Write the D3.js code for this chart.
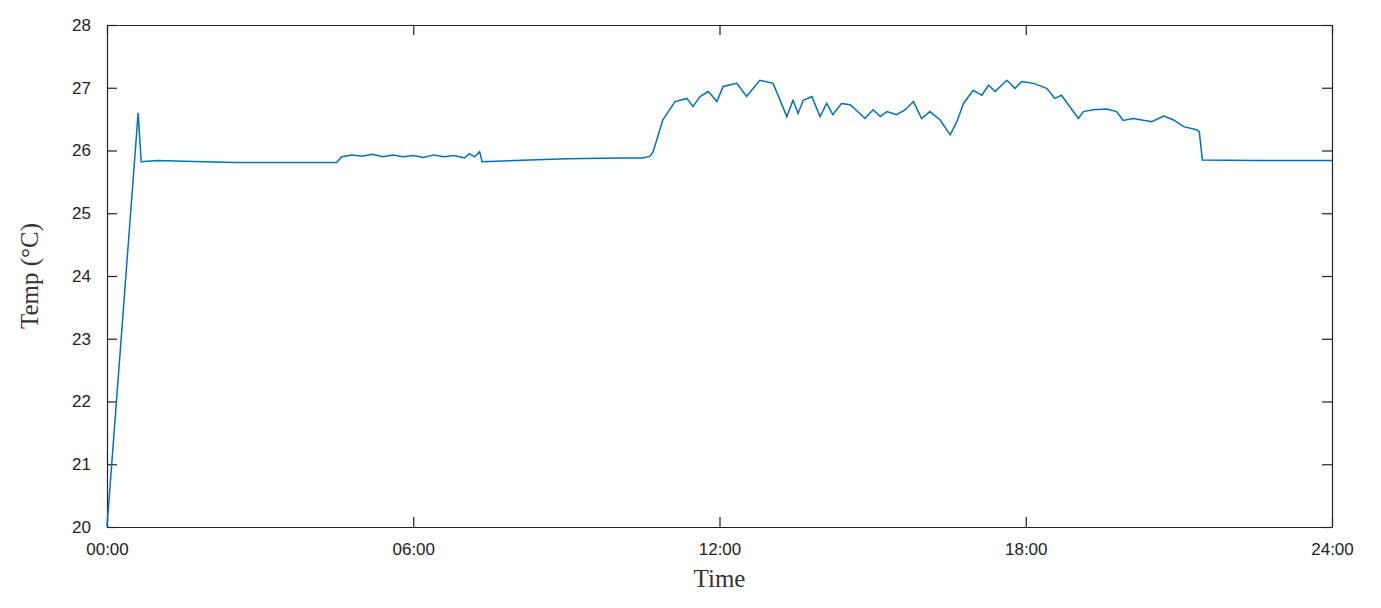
<!DOCTYPE html>
<html>
<head>
<meta charset="utf-8">
<script src="https://cdn.jsdelivr.net/npm/d3@7"></script>
<style>
  body { margin: 0; background: #fff; }
  .tick text { font-family: "Liberation Sans", Arial, sans-serif; font-size: 17px; fill: #222; }
  .lbl { font-family: "Liberation Serif", "Times New Roman", serif; font-size: 25px; fill: #333; }
</style>
</head>
<body>
<svg id="chart" width="1381" height="608"></svg>
<script>
// hours since midnight
var hours = [0, 0.61, 0.67, 1.0, 1.5, 2.5, 3.5, 4.5, 4.6, 4.8, 5.0, 5.2, 5.4, 5.6, 5.8, 6.0, 6.2, 6.4, 6.6, 6.8, 7.0, 7.1, 7.2, 7.3, 7.35, 8.0, 9.0, 10.05, 10.5, 10.64, 10.7,
  10.89, 11.13, 11.36, 11.48, 11.62, 11.78, 11.95, 12.07, 12.34, 12.53, 12.79, 13.05, 13.32, 13.44, 13.54, 13.64, 13.81, 13.97,
  14.1, 14.22, 14.39, 14.56, 14.75, 14.85, 15.01, 15.15, 15.28, 15.47, 15.64, 15.80, 15.96, 16.12, 16.32, 16.52, 16.65, 16.78,
  16.97, 17.14, 17.27, 17.40, 17.63, 17.79, 17.92, 18.15, 18.41, 18.57, 18.70, 19.03, 19.13, 19.32, 19.59, 19.78, 19.91, 20.11,
  20.47, 20.70, 20.89, 21.09, 21.35, 21.40, 21.46, 22.5, 23.5, 24];
// temperature, °C
var temps = [20.0, 26.6, 25.82, 25.84, 25.83, 25.81, 25.81, 25.81, 25.9, 25.93, 25.91, 25.94, 25.9, 25.93, 25.9, 25.92, 25.89, 25.93, 25.9, 25.92, 25.88, 25.95, 25.9, 25.98, 25.82, 25.84, 25.87, 25.88, 25.88, 25.91, 25.98,
  26.49, 26.78, 26.83, 26.70, 26.86, 26.94, 26.78, 27.02, 27.07, 26.86, 27.12, 27.07, 26.54, 26.80, 26.59, 26.80, 26.86, 26.54,
  26.75, 26.57, 26.75, 26.73, 26.59, 26.51, 26.65, 26.54, 26.62, 26.57, 26.65, 26.78, 26.51, 26.62, 26.49, 26.25, 26.46, 26.75,
  26.96, 26.88, 27.04, 26.94, 27.12, 26.99, 27.10, 27.07, 26.99, 26.83, 26.88, 26.51, 26.62, 26.65, 26.66, 26.62, 26.48, 26.51,
  26.46, 26.55, 26.49, 26.38, 26.33, 26.30, 25.85, 25.84, 25.84, 25.84];
var xTicks = [0, 6, 12, 18, 24];
var xTickLabels = ["00:00", "06:00", "12:00", "18:00", "24:00"];
var yTicks = [20, 21, 22, 23, 24, 25, 26, 27, 28];

var svg = d3.select("#chart");
var m = {left: 107, right: 1332, top: 25, bottom: 527};

var x = d3.scaleLinear().domain([0, 24]).range([m.left, m.right]);
var y = d3.scaleLinear().domain([20, 28]).range([m.bottom, m.top]);

var data = hours.map(function(h, i) { return [h, temps[i]]; });

// axes, MATLAB style ticks inside
var fmtX = function(d) { return xTickLabels[xTicks.indexOf(d)]; };
svg.append("g").attr("transform", "translate(0," + m.bottom + ")")
  .call(d3.axisBottom(x).tickValues(xTicks).tickFormat(fmtX).tickSizeInner(-10).tickSizeOuter(0).tickPadding(16));
svg.append("g").attr("transform", "translate(0," + m.top + ")")
  .call(d3.axisTop(x).tickValues(xTicks).tickFormat("").tickSizeInner(-10).tickSizeOuter(0));
svg.append("g").attr("transform", "translate(" + m.left + ",0)")
  .call(d3.axisLeft(y).tickValues(yTicks).tickSizeInner(-10).tickSizeOuter(0).tickPadding(16));
svg.append("g").attr("transform", "translate(" + m.right + ",0)")
  .call(d3.axisRight(y).tickValues(yTicks).tickFormat("").tickSizeInner(-10).tickSizeOuter(0));
svg.selectAll(".domain, .tick line").attr("stroke", "#222").attr("stroke-width", 1.2);

svg.append("path")
  .datum(data)
  .attr("fill", "none")
  .attr("stroke", "#0072BD")
  .attr("stroke-width", 1.5)
  .attr("d", d3.line().x(function(d) { return x(d[0]); }).y(function(d) { return y(d[1]); }));

svg.append("text").attr("class", "lbl").attr("text-anchor", "middle")
  .attr("x", (m.left + m.right) / 2).attr("y", 587).text("Time");
svg.append("text").attr("class", "lbl").attr("text-anchor", "middle")
  .attr("transform", "translate(38," + (m.top + m.bottom) / 2 + ") rotate(-90)").text("Temp (°C)");
</script>
</body>
</html>
